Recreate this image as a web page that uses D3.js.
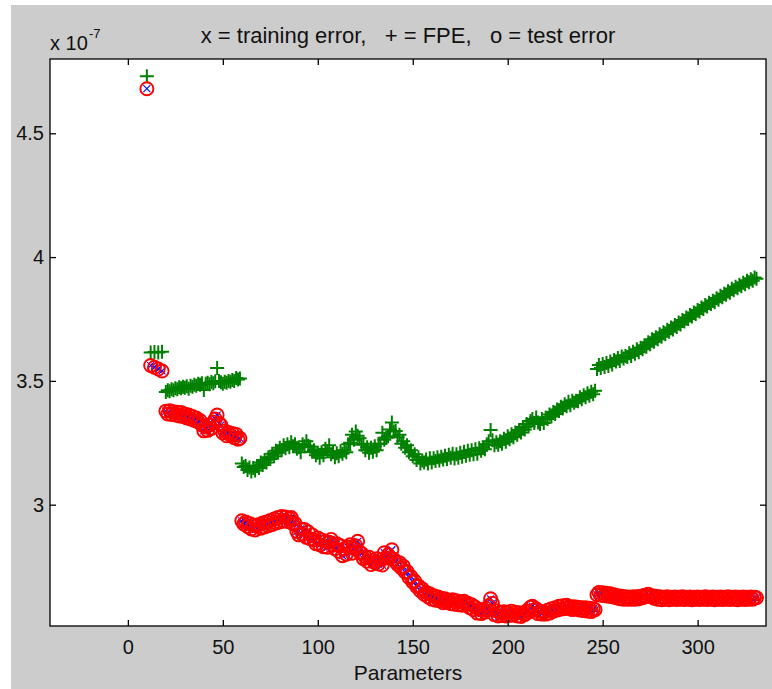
<!DOCTYPE html>
<html>
<head>
<meta charset="utf-8">
<script src="https://cdn.jsdelivr.net/npm/d3@7"></script>
<style>
  body { margin: 0; background: #fff; }
  text { font-family: "Liberation Sans", Arial, sans-serif; fill: #111; }
</style>
</head>
<body>
<div id="chart"></div>
<script>
// number of parameters left in the network after each pruning step
var params = [
  10, 12, 14, 16, 18,
  20, 21, 22, 23, 24, 25, 26, 27, 28, 29,
  30, 31, 32, 33, 34, 35, 36, 37, 38, 39,
  40, 41, 42, 43, 44, 45, 46, 47, 48, 49,
  50, 51, 52, 53, 54, 55, 56, 57, 58, 59,
  60, 61, 62, 63, 64, 65, 66, 67, 68, 69,
  70, 71, 72, 73, 74, 75, 76, 77, 78, 79,
  80, 81, 82, 83, 84, 85, 86, 87, 88, 89,
  90, 91, 92, 93, 94, 95, 96, 97, 98, 99,
  100, 101, 102, 103, 104, 105, 106, 107, 108, 109,
  110, 111, 112, 113, 114, 115, 116, 117, 118, 119,
  120, 121, 122, 123, 124, 125, 126, 127, 128, 129,
  130, 131, 132, 133, 134, 135, 136, 137, 138, 139,
  140, 141, 142, 143, 144, 145, 146, 147, 148, 149,
  150, 151, 152, 153, 154, 155, 156, 157, 158, 159,
  160, 161, 162, 163, 164, 165, 166, 167, 168, 169,
  170, 171, 172, 173, 174, 175, 176, 177, 178, 179,
  180, 181, 182, 183, 184, 185, 186, 187, 188, 189,
  190, 191, 192, 193, 194, 195, 196, 197, 198, 199,
  200, 201, 202, 203, 204, 205, 206, 207, 208, 209,
  210, 211, 212, 213, 214, 215, 216, 217, 218, 219,
  220, 221, 222, 223, 224, 225, 226, 227, 228, 229,
  230, 231, 232, 233, 234, 235, 236, 237, 238, 239,
  240, 241, 242, 243, 244, 245, 246,
  247, 248, 249, 250, 251, 252, 253, 254, 255, 256,
  257, 258, 259, 260, 261, 262, 263, 264, 265, 266,
  267, 268, 269, 270, 271, 272, 273, 274, 275, 276,
  277, 278, 279, 280, 281, 282, 283, 284, 285, 286,
  287, 288, 289, 290, 291, 292, 293, 294, 295, 296,
  297, 298, 299, 300, 301, 302, 303, 304, 305, 306,
  307, 308, 309, 310, 311, 312, 313, 314, 315, 316,
  317, 318, 319, 320, 321, 322, 323, 324, 325, 326,
  327, 328, 329, 330, 331
]

// values in units of 1e-7
var fpe = [
  4.730, 3.615, 3.617, 3.615, 3.618,
  3.455, 3.462, 3.458, 3.466, 3.462, 3.470, 3.466, 3.474, 3.470, 3.476,
  3.472, 3.478, 3.468, 3.480, 3.476, 3.484, 3.480, 3.488, 3.484, 3.490,
  3.463, 3.488, 3.492, 3.486, 3.495, 3.490, 3.498, 3.552, 3.500, 3.494,
  3.488, 3.496, 3.492, 3.500, 3.496, 3.504, 3.500, 3.512, 3.506, 3.510,
  3.166, 3.152, 3.156, 3.140, 3.150, 3.134, 3.148, 3.138, 3.156, 3.148,
  3.170, 3.160, 3.180, 3.170, 3.192, 3.184, 3.206, 3.196, 3.218, 3.210,
  3.230, 3.220, 3.240, 3.228, 3.244, 3.232, 3.252, 3.236, 3.244, 3.226,
  3.232, 3.212, 3.244, 3.236, 3.256, 3.238, 3.234, 3.214, 3.220, 3.200,
  3.210, 3.190, 3.212, 3.200, 3.226, 3.216, 3.240, 3.204, 3.212, 3.192,
  3.208, 3.196, 3.216, 3.206, 3.220, 3.212, 3.244, 3.250, 3.282, 3.262,
  3.296, 3.278, 3.268, 3.242, 3.246, 3.220, 3.232, 3.210, 3.230, 3.214,
  3.236, 3.220, 3.246, 3.246, 3.290, 3.262, 3.270, 3.276, 3.304, 3.332,
  3.296, 3.298, 3.272, 3.282, 3.246, 3.256, 3.230, 3.240, 3.212, 3.220,
  3.196, 3.204, 3.180, 3.192, 3.166, 3.178, 3.170, 3.182, 3.166, 3.188,
  3.170, 3.188, 3.176, 3.192, 3.178, 3.194, 3.182, 3.198, 3.184, 3.202,
  3.190, 3.206, 3.186, 3.204, 3.190, 3.210, 3.194, 3.214, 3.198, 3.218,
  3.202, 3.220, 3.204, 3.224, 3.206, 3.228, 3.218, 3.230, 3.224, 3.244,
  3.256, 3.302, 3.260, 3.240, 3.252, 3.242, 3.256, 3.246, 3.266, 3.254,
  3.276, 3.264, 3.284, 3.272, 3.292, 3.282, 3.302, 3.292, 3.314, 3.304,
  3.326, 3.316, 3.338, 3.346, 3.330, 3.352, 3.332, 3.326, 3.346, 3.330,
  3.352, 3.346, 3.364, 3.356, 3.374, 3.366, 3.384, 3.378, 3.396, 3.388,
  3.406, 3.398, 3.416, 3.402, 3.420, 3.412, 3.420, 3.418, 3.434, 3.426,
  3.442, 3.434, 3.450, 3.440, 3.456, 3.446, 3.460,
  3.548, 3.564, 3.552, 3.568, 3.556, 3.572, 3.560, 3.578, 3.566, 3.584,
  3.578, 3.592, 3.580, 3.598, 3.590, 3.600, 3.596, 3.612, 3.600, 3.618,
  3.610, 3.628, 3.616, 3.634, 3.628, 3.644, 3.638, 3.656, 3.648, 3.668,
  3.658, 3.676, 3.668, 3.688, 3.678, 3.696, 3.688, 3.706, 3.698, 3.716,
  3.708, 3.726, 3.718, 3.736, 3.728, 3.746, 3.740, 3.756, 3.750, 3.766,
  3.760, 3.776, 3.770, 3.786, 3.780, 3.796, 3.790, 3.806, 3.800, 3.816,
  3.810, 3.824, 3.818, 3.834, 3.828, 3.844, 3.838, 3.852, 3.848, 3.862,
  3.856, 3.872, 3.866, 3.880, 3.874, 3.888, 3.882, 3.896, 3.890, 3.904,
  3.898, 3.910, 3.904, 3.918, 3.912
]

var testErr = [
  4.680, 3.562, 3.555, 3.548, 3.540,
  3.378, 3.366, 3.380, 3.364, 3.376, 3.362, 3.374, 3.358, 3.372, 3.356,
  3.366, 3.350, 3.362, 3.346, 3.356, 3.340, 3.350, 3.334, 3.340, 3.322,
  3.298, 3.314, 3.300, 3.322, 3.308, 3.334, 3.346, 3.362, 3.328, 3.322,
  3.290, 3.298, 3.278, 3.292, 3.280, 3.288, 3.270, 3.284, 3.264, 3.268,
  2.935, 2.922, 2.930, 2.912, 2.924, 2.902, 2.918, 2.898, 2.914, 2.920,
  2.905, 2.926, 2.910, 2.930, 2.915, 2.936, 2.920, 2.942, 2.926, 2.948,
  2.930, 2.952, 2.934, 2.950, 2.932, 2.944, 2.948, 2.922, 2.925, 2.892,
  2.878, 2.902, 2.880, 2.900, 2.868, 2.890, 2.862, 2.878, 2.858, 2.842,
  2.866, 2.838, 2.858, 2.830, 2.852, 2.828, 2.848, 2.860, 2.836, 2.822,
  2.842, 2.812, 2.834, 2.794, 2.822, 2.800, 2.828, 2.838, 2.804, 2.824,
  2.834, 2.852, 2.808, 2.804, 2.782, 2.790, 2.772, 2.788, 2.758, 2.776,
  2.766, 2.782, 2.760, 2.778, 2.756, 2.806, 2.784, 2.798, 2.786, 2.818,
  2.780, 2.770, 2.758, 2.766, 2.744, 2.752, 2.728, 2.730, 2.706, 2.710,
  2.688, 2.692, 2.670, 2.672, 2.652, 2.660, 2.638, 2.646, 2.628, 2.640,
  2.618, 2.632, 2.614, 2.628, 2.612, 2.622, 2.604, 2.620, 2.606, 2.614,
  2.600, 2.616, 2.598, 2.612, 2.596, 2.608, 2.594, 2.610, 2.598, 2.602,
  2.584, 2.596, 2.576, 2.586, 2.562, 2.578, 2.560, 2.574, 2.566, 2.580,
  2.592, 2.620, 2.602, 2.556, 2.572, 2.550, 2.566, 2.552, 2.568, 2.550,
  2.566, 2.552, 2.570, 2.554, 2.566, 2.550, 2.564, 2.548, 2.562, 2.556,
  2.572, 2.566, 2.586, 2.590, 2.574, 2.580, 2.560, 2.570, 2.558, 2.566,
  2.558, 2.574, 2.562, 2.580, 2.570, 2.584, 2.574, 2.590, 2.578, 2.592,
  2.580, 2.594, 2.582, 2.588, 2.576, 2.588, 2.578, 2.586, 2.574, 2.584,
  2.572, 2.584, 2.570, 2.582, 2.568, 2.580, 2.576,
  2.636, 2.646, 2.634, 2.644, 2.632, 2.642, 2.630, 2.640, 2.628, 2.636,
  2.624, 2.632, 2.620, 2.630, 2.618, 2.628, 2.618, 2.626, 2.618, 2.628,
  2.618, 2.628, 2.620, 2.630, 2.624, 2.634, 2.628, 2.638, 2.630, 2.632,
  2.622, 2.630, 2.618, 2.628, 2.616, 2.626, 2.618, 2.628, 2.616, 2.626,
  2.618, 2.627, 2.617, 2.626, 2.618, 2.628, 2.617, 2.626, 2.618, 2.627,
  2.616, 2.626, 2.618, 2.627, 2.617, 2.626, 2.618, 2.628, 2.617, 2.626,
  2.618, 2.627, 2.616, 2.626, 2.618, 2.627, 2.617, 2.626, 2.618, 2.628,
  2.617, 2.626, 2.618, 2.627, 2.616, 2.626, 2.618, 2.627, 2.617, 2.626,
  2.618, 2.627, 2.618, 2.626, 2.624
]

// the x markers sit right in the middle of the o markers
var trainErr = testErr

var xTicks = [0, 50, 100, 150, 200, 250, 300]
var yTicks = [3, 3.5, 4, 4.5]

var W = 772, H = 689
var m = {left: 50, right: 766, top: 59, bottom: 626}

var svg = d3.select('#chart').append('svg')
  .attr('width', W).attr('height', H)

svg.append('rect').attr('x', 11).attr('y', 5)
  .attr('width', W - 11).attr('height', H - 5).attr('fill', '#cccccc')
svg.append('rect').attr('x', m.left).attr('y', m.top)
  .attr('width', m.right - m.left).attr('height', m.bottom - m.top).attr('fill', '#fff')

var x = d3.scaleLinear().domain([-41, 336]).range([m.left, m.right])
var y = d3.scaleLinear().domain([2.51, 4.8]).range([m.bottom, m.top])

var pts = params.map(function(p, i){
  return {p: p, fpe: fpe[i], test: testErr[i], train: trainErr[i]}
})

var g = svg.append('g')

// training error: blue x
g.selectAll('path.train').data(pts).enter().append('path')
  .attr('class', 'train')
  .attr('transform', function(d){ return 'translate(' + x(d.p) + ',' + y(d.train) + ')' })
  .attr('d', 'M-3.5,-3.5L3.5,3.5M-3.5,3.5L3.5,-3.5')
  .attr('stroke', '#0000ff').attr('stroke-width', 1.1).attr('fill', 'none')

// FPE: green +
g.selectAll('path.fpe').data(pts).enter().append('path')
  .attr('class', 'fpe')
  .attr('transform', function(d){ return 'translate(' + x(d.p) + ',' + y(d.fpe) + ')' })
  .attr('d', 'M-7,0H7M0,-7V7')
  .attr('stroke', '#008000').attr('stroke-width', 2).attr('fill', 'none')

// test error: red o
g.selectAll('circle.test').data(pts).enter().append('circle')
  .attr('class', 'test')
  .attr('cx', function(d){ return x(d.p) })
  .attr('cy', function(d){ return y(d.test) })
  .attr('r', 6.5)
  .attr('stroke', '#ff0000').attr('stroke-width', 1.9).attr('fill', 'none')

// axes, ticks pointing inwards on all four sides
var fontSize = 20

var xb = svg.append('g').attr('transform', 'translate(0,' + m.bottom + ')')
  .call(d3.axisBottom(x).tickValues(xTicks).tickSizeInner(-6).tickSizeOuter(0).tickPadding(14).tickFormat(d3.format('d')))
var xt = svg.append('g').attr('transform', 'translate(0,' + m.top + ')')
  .call(d3.axisTop(x).tickValues(xTicks).tickSizeInner(-6).tickSizeOuter(0).tickFormat(''))
var yl = svg.append('g').attr('transform', 'translate(' + m.left + ',0)')
  .call(d3.axisLeft(y).tickValues(yTicks).tickSizeInner(-6).tickSizeOuter(0).tickPadding(6).tickFormat(function(d){ return d }))
var yr = svg.append('g').attr('transform', 'translate(' + m.right + ',0)')
  .call(d3.axisRight(y).tickValues(yTicks).tickSizeInner(-6).tickSizeOuter(0).tickFormat(''))

;[xb, xt, yl, yr].forEach(function(a){
  a.select('.domain').remove()
  a.selectAll('line').attr('stroke', '#000').attr('stroke-width', 1.3)
  a.selectAll('text').attr('font-size', fontSize).attr('fill', '#111')
    .attr('font-family', '"Liberation Sans", Arial, sans-serif')
})

svg.append('rect').attr('x', m.left).attr('y', m.top)
  .attr('width', m.right - m.left).attr('height', m.bottom - m.top)
  .attr('fill', 'none').attr('stroke', '#000').attr('stroke-width', 1.3)

// labels
svg.append('text').attr('x', (m.left + m.right) / 2).attr('y', 680)
  .attr('text-anchor', 'middle').attr('font-size', 21).text('Parameters')

svg.append('text').attr('x', 408).attr('y', 43)
  .attr('text-anchor', 'middle').attr('font-size', 22)
  .style('white-space', 'pre')
  .text('x = training error,   + = FPE,   o = test error')

svg.append('text').attr('x', 50).attr('y', 50).attr('font-size', 20).text('x 10')
svg.append('text').attr('x', 89).attr('y', 38).attr('font-size', 13).text('-7')
</script>
</body>
</html>
